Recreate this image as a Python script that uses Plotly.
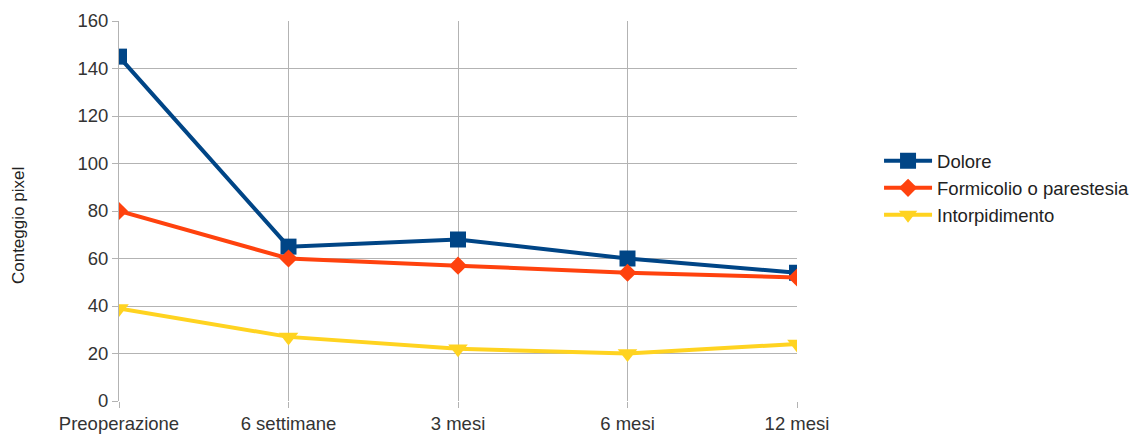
import plotly.graph_objects as go

categories = ["Preoperazione", "6 settimane", "3 mesi", "6 mesi", "12 mesi"]
dolore = [145, 65, 68, 60, 54]
formicolio = [80, 60, 57, 54, 52]
intorpidimento = [39, 27, 22, 20, 24]
y_ticks = [0, 20, 40, 60, 80, 100, 120, 140, 160]

xpos = list(range(len(categories)))

fig = go.Figure()
fig.add_trace(go.Scatter(x=xpos, y=dolore, name="Dolore", mode="lines+markers",
                         line=dict(color="#004586", width=4),
                         marker=dict(symbol="square", size=16, color="#004586")))
fig.add_trace(go.Scatter(x=xpos, y=formicolio, name="Formicolio o parestesia", mode="lines+markers",
                         line=dict(color="#ff420e", width=4),
                         marker=dict(symbol="diamond", size=14, color="#ff420e")))
fig.add_trace(go.Scatter(x=xpos, y=intorpidimento, name="Intorpidimento", mode="lines+markers",
                         line=dict(color="#ffd320", width=4),
                         marker=dict(symbol="triangle-down", size=17, color="#ffd320")))

fig.update_layout(
    width=1144, height=439,
    margin=dict(l=119, r=347, t=21, b=38, autoexpand=False),
    paper_bgcolor="white", plot_bgcolor="white",
    font=dict(family="Liberation Sans, Arial, sans-serif", size=18.5, color="#333333"),
    showlegend=True,
    legend=dict(x=1.121, y=0.56, xanchor="left", yanchor="middle",
                font=dict(size=18.5, color="#222222"),
                itemwidth=48, bgcolor="rgba(0,0,0,0)"),
    xaxis=dict(range=[0, 4], tickvals=xpos, ticktext=categories,
               showgrid=True, gridcolor="#b3b3b3", gridwidth=1,
               ticks="outside", ticklen=6, tickcolor="#b3b3b3",
               showline=False, zeroline=False, fixedrange=True, automargin=False),
    yaxis=dict(range=[0, 160], tickvals=y_ticks,
               showgrid=True, gridcolor="#b3b3b3", gridwidth=1,
               ticks="outside", ticklen=6, tickcolor="#b3b3b3",
               showline=True, linecolor="#b3b3b3", linewidth=1,
               zeroline=False, automargin=False),
    annotations=[dict(text="Conteggio pixel", xref="paper", yref="paper",
                      x=-0.149, y=0.463, xanchor="center", yanchor="middle",
                      textangle=-90, showarrow=False,
                      font=dict(size=17, color="#222222"))],
)

fig.write_html("out.html")
